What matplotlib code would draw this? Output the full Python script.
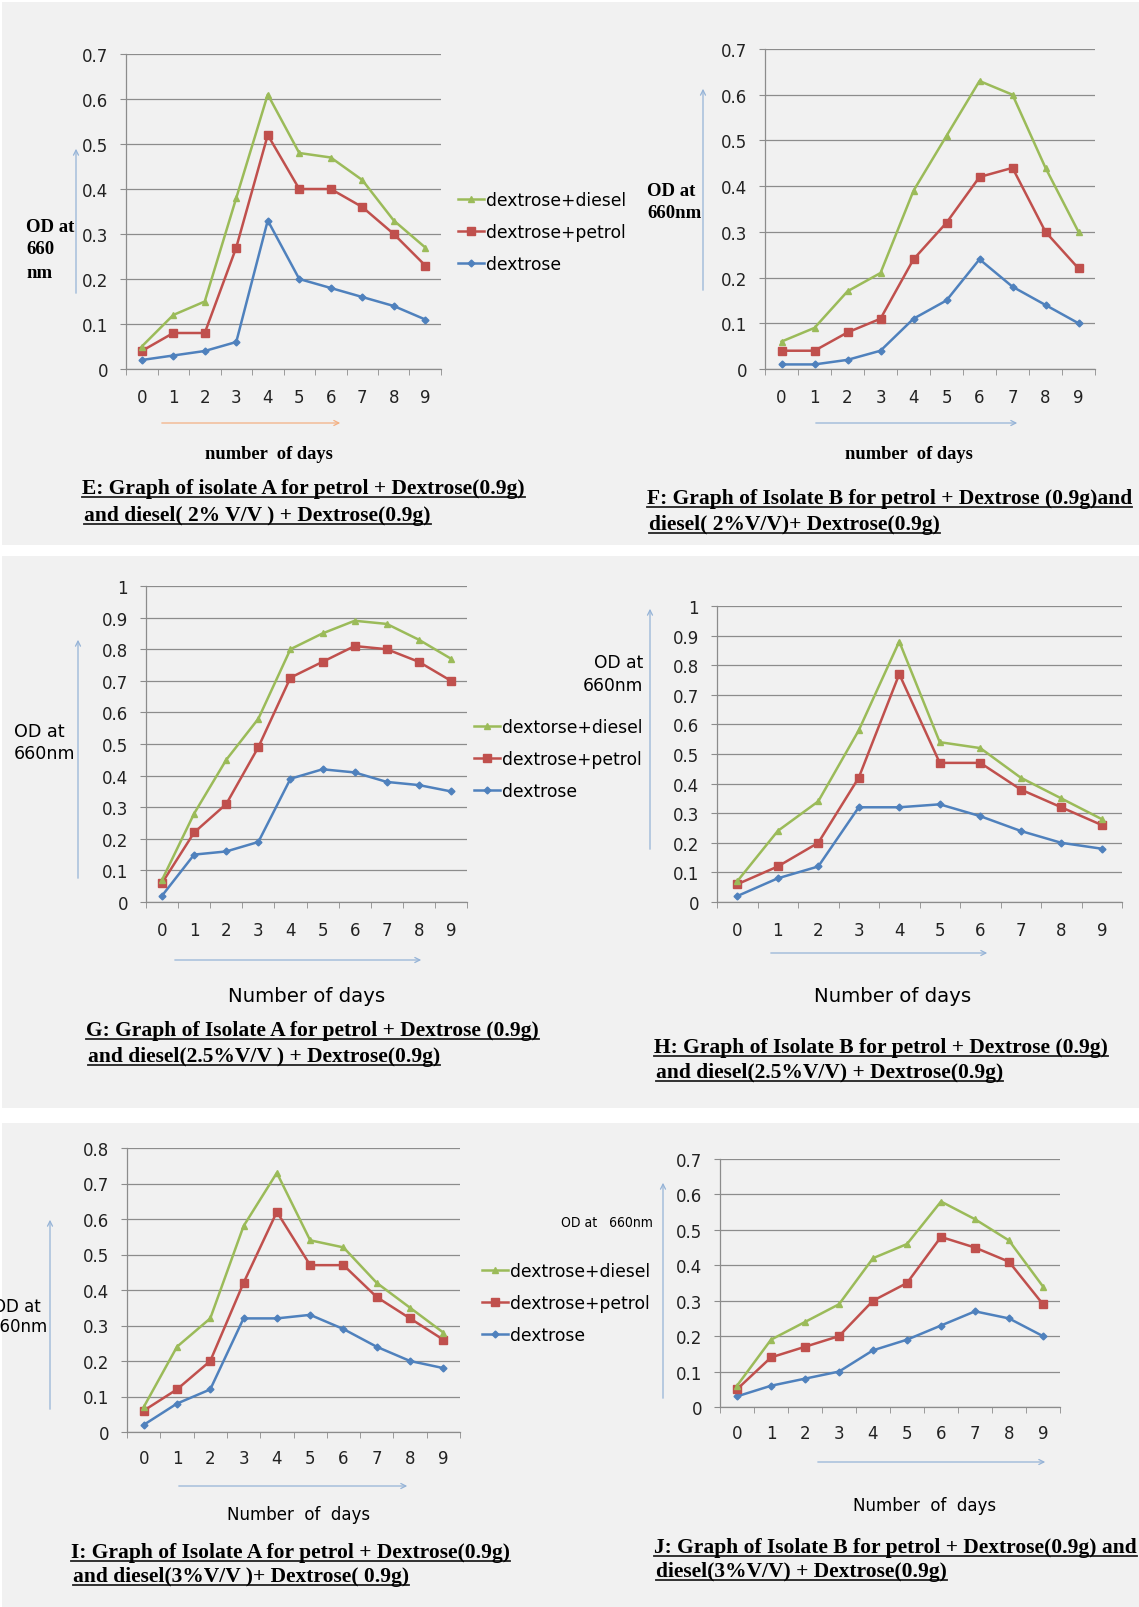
import matplotlib.pyplot as plt
from matplotlib.patches import Rectangle, FancyArrowPatch
from matplotlib.lines import Line2D
import numpy as np

W, H = 1139, 1608

days = list(range(10))
labels_std = ["dextrose+diesel", "dextrose+petrol", "dextrose"]
labels_g = ["dextorse+diesel", "dextrose+petrol", "dextrose"]

# E: isolate A, 2% V/V
e_diesel = [0.05, 0.12, 0.15, 0.38, 0.61, 0.48, 0.47, 0.42, 0.33, 0.27]
e_petrol = [0.04, 0.08, 0.08, 0.27, 0.52, 0.40, 0.40, 0.36, 0.30, 0.23]
e_dextrose = [0.02, 0.03, 0.04, 0.06, 0.33, 0.20, 0.18, 0.16, 0.14, 0.11]
# F: isolate B, 2% V/V
f_diesel = [0.06, 0.09, 0.17, 0.21, 0.39, 0.51, 0.63, 0.60, 0.44, 0.30]
f_petrol = [0.04, 0.04, 0.08, 0.11, 0.24, 0.32, 0.42, 0.44, 0.30, 0.22]
f_dextrose = [0.01, 0.01, 0.02, 0.04, 0.11, 0.15, 0.24, 0.18, 0.14, 0.10]
# G: isolate A, 2.5% V/V
g_diesel = [0.07, 0.28, 0.45, 0.58, 0.80, 0.85, 0.89, 0.88, 0.83, 0.77]
g_petrol = [0.06, 0.22, 0.31, 0.49, 0.71, 0.76, 0.81, 0.80, 0.76, 0.70]
g_dextrose = [0.02, 0.15, 0.16, 0.19, 0.39, 0.42, 0.41, 0.38, 0.37, 0.35]
# H: isolate B, 2.5% V/V
h_diesel = [0.07, 0.24, 0.34, 0.58, 0.88, 0.54, 0.52, 0.42, 0.35, 0.28]
h_petrol = [0.06, 0.12, 0.20, 0.42, 0.77, 0.47, 0.47, 0.38, 0.32, 0.26]
h_dextrose = [0.02, 0.08, 0.12, 0.32, 0.32, 0.33, 0.29, 0.24, 0.20, 0.18]
# I: isolate A, 3% V/V
i_diesel = [0.07, 0.24, 0.32, 0.58, 0.73, 0.54, 0.52, 0.42, 0.35, 0.28]
i_petrol = [0.06, 0.12, 0.20, 0.42, 0.62, 0.47, 0.47, 0.38, 0.32, 0.26]
i_dextrose = [0.02, 0.08, 0.12, 0.32, 0.32, 0.33, 0.29, 0.24, 0.20, 0.18]
# J: isolate B, 3% V/V
j_diesel = [0.06, 0.19, 0.24, 0.29, 0.42, 0.46, 0.58, 0.53, 0.47, 0.34]
j_petrol = [0.05, 0.14, 0.17, 0.20, 0.30, 0.35, 0.48, 0.45, 0.41, 0.29]
j_dextrose = [0.03, 0.06, 0.08, 0.10, 0.16, 0.19, 0.23, 0.27, 0.25, 0.20]

captions = {
    "E": ["E: Graph of isolate A for petrol + Dextrose(0.9g)", "and diesel( 2% V/V ) + Dextrose(0.9g)"],
    "F": ["F: Graph of Isolate B for petrol + Dextrose (0.9g)and", "diesel( 2%V/V)+ Dextrose(0.9g)"],
    "G": ["G: Graph of Isolate A for petrol + Dextrose (0.9g)", "and diesel(2.5%V/V ) + Dextrose(0.9g)"],
    "H": ["H: Graph of Isolate B for petrol + Dextrose (0.9g)", "and diesel(2.5%V/V) + Dextrose(0.9g)"],
    "I": ["I: Graph of Isolate A for petrol + Dextrose(0.9g)", "and diesel(3%V/V )+ Dextrose( 0.9g)"],
    "J": ["J: Graph of Isolate B for petrol + Dextrose(0.9g) and", "diesel(3%V/V) + Dextrose(0.9g)"],
}

GREEN, RED, BLUE = "#9bbb59", "#c0504d", "#4f81bd"
GRID = "#8c8c8c"
ARROW_BLUE = "#95b3d7"
SANS = ["DejaVu Sans"]
SERIF = ["Liberation Serif", "DejaVu Serif"]

fig = plt.figure(figsize=(W / 100, H / 100), dpi=100)
fig.patch.set_facecolor("white")


def fx(x):
    return x / W


def fy(y):
    return 1 - y / H


# light grey page bands
for y0, y1 in [(3, 546), (557, 1109), (1124, 1608)]:
    fig.add_artist(Rectangle((fx(2), fy(y1)), fx(W - 2), (y1 - y0) / H,
                             transform=fig.transFigure, facecolor="#f1f1f1",
                             edgecolor="none", zorder=-10))


def ftext(x, y, s, **kw):
    return fig.text(fx(x), fy(y), s, **kw)


def arrow(x0, y0, x1, y1, color=ARROW_BLUE):
    fig.add_artist(FancyArrowPatch((fx(x0), fy(y0)), (fx(x1), fy(y1)),
                                   transform=fig.transFigure, arrowstyle="->",
                                   mutation_scale=9, color=color, lw=0.9))


def panel(x0, y0, x1, y1, ymax, diesel, petrol, dextrose, xpad=14, ypad=9):
    ax = fig.add_axes([fx(x0), fy(y1), (x1 - x0) / W, (y1 - y0) / H])
    ax.set_facecolor("none")
    ax.plot(days, dextrose, color=BLUE, marker="D", ms=3.5, lw=1.8)
    ax.plot(days, petrol, color=RED, marker="s", ms=5.5, lw=1.8)
    ax.plot(days, diesel, color=GREEN, marker="^", ms=4.5, lw=1.8)
    ax.set_xlim(-0.5, 9.5)
    ax.set_ylim(0, ymax)
    yt = np.round(np.arange(0, ymax + 0.001, 0.1), 1)
    ax.set_yticks(yt)
    ax.set_yticklabels(["%g" % v for v in yt], fontsize=12, family=SANS, color="#222222")
    ax.set_xticks(days)
    ax.set_xticklabels([str(d) for d in days], fontsize=12, family=SANS, color="#222222")
    ax.set_xticks(np.arange(-0.5, 10, 1), minor=True)
    ax.tick_params(axis="x", which="major", length=0, pad=xpad)
    ax.tick_params(axis="x", which="minor", length=4, color=GRID, direction="out")
    ax.tick_params(axis="y", length=4, color=GRID, pad=ypad)
    ax.yaxis.grid(True, color=GRID, lw=0.9)
    ax.set_axisbelow(True)
    for s in ["top", "right"]:
        ax.spines[s].set_visible(False)
    for s in ["left", "bottom"]:
        ax.spines[s].set_color(GRID)
        ax.spines[s].set_linewidth(0.9)
    return ax


def legend(ax, labels, x, y):
    handles = [Line2D([], [], color=GREEN, marker="^", ms=4.5, lw=1.8),
               Line2D([], [], color=RED, marker="s", ms=5.5, lw=1.8),
               Line2D([], [], color=BLUE, marker="D", ms=3.5, lw=1.8)]
    ax.legend(handles, labels, loc="center left", bbox_to_anchor=(fx(x), fy(y)),
              bbox_transform=fig.transFigure, frameon=False, prop={"family": SANS, "size": 12.3},
              handlelength=1.5, handletextpad=0.15, labelspacing=0.82,
              borderpad=0, borderaxespad=0)


cap_texts = []


def caption(key, x, y, size=15.5):
    l1, l2 = captions[key]
    cap_texts.append(ftext(x, y[0], l1, family=SERIF, weight="bold", size=size, va="center"))
    cap_texts.append(ftext(x + 2, y[1], l2, family=SERIF, weight="bold", size=size, va="center"))


# ---- E ----
ax = panel(126, 55, 441, 370, 0.7, e_diesel, e_petrol, e_dextrose)
legend(ax, labels_std, 458, 233)
for txt, yy in [("OD at", 227), ("660", 249), ("nm", 273)]:
    ftext(26, yy, txt, family=SERIF, weight="bold", size=13.5, va="center")
arrow(76, 297, 76, 147)
arrow(159, 424, 343, 424, color="#f4b183")
ftext(269, 455, "number  of days", family=SERIF, weight="bold", size=13.3, ha="center", va="center")
caption("E", 82, (489, 516))

# ---- F ----
ax = panel(765, 50, 1095, 370, 0.7, f_diesel, f_petrol, f_dextrose)
ftext(647, 191, "OD at", family=SERIF, weight="bold", size=13.5, va="center")
ftext(647, 213, "660nm", family=SERIF, weight="bold", size=13.5, va="center")
arrow(703, 294, 703, 87)
arrow(813, 424, 1020, 424)
ftext(909, 455, "number  of days", family=SERIF, weight="bold", size=13.3, ha="center", va="center")
caption("F", 647, (499, 525))

# ---- G ----
ax = panel(146, 587, 467, 903, 1.0, g_diesel, g_petrol, g_dextrose)
legend(ax, labels_g, 474, 760)
ftext(14, 732, "OD at", family=SANS, size=12.6, va="center")
ftext(14, 754, "660nm", family=SANS, size=12.6, va="center")
arrow(78, 882, 78, 638)
arrow(172, 961, 424, 961)
ftext(307, 997, "Number of days", family=SANS, size=14.2, ha="center", va="center")
caption("G", 86, (1031, 1057))

# ---- H ----
ax = panel(717, 607, 1122, 903, 1.0, h_diesel, h_petrol, h_dextrose)
ftext(643, 663, "OD at", family=SANS, size=12.3, ha="right", va="center")
ftext(643, 686, "660nm", family=SANS, size=12.3, ha="right", va="center")
arrow(650, 853, 650, 607)
arrow(768, 954, 990, 954)
ftext(893, 997, "Number of days", family=SANS, size=14.2, ha="center", va="center")
caption("H", 654, (1048, 1073))

# ---- I ----
ax = panel(127, 1149, 460, 1433, 0.8, i_diesel, i_petrol, i_dextrose, xpad=12)
legend(ax, labels_std, 482, 1304)
ftext(17, 1307, "OD at", family=SANS, size=12, ha="center", va="center")
ftext(19, 1327, "660nm", family=SANS, size=12, ha="center", va="center")
arrow(50, 1413, 50, 1218)
arrow(176, 1487, 410, 1487)
ftext(299, 1515, "Number  of  days", family=SANS, size=12, ha="center", va="center")
caption("I", 71, (1553, 1577))

# ---- J ----
ax = panel(720, 1160, 1060, 1408, 0.7, j_diesel, j_petrol, j_dextrose, xpad=12)
ftext(653, 1223, "OD at   660nm", family=SANS, stretch="condensed", size=10,
      ha="right", va="center")
arrow(663, 1402, 663, 1181)
arrow(815, 1463, 1048, 1463)
ftext(925, 1506, "Number  of  days", family=SANS, size=12, ha="center", va="center")
caption("J", 654, (1548, 1572))

# underline the captions
fig.canvas.draw()
inv = fig.transFigure.inverted()
for t in cap_texts:
    bb = t.get_window_extent()
    (ax0, ay), (ax1, _) = inv.transform([(bb.x0, bb.y0 + 1), (bb.x1, bb.y0 + 1)])
    fig.add_artist(Line2D([ax0, ax1], [ay, ay], transform=fig.transFigure, color="#222222", lw=1.3))

fig.savefig("out.png", dpi=100)
